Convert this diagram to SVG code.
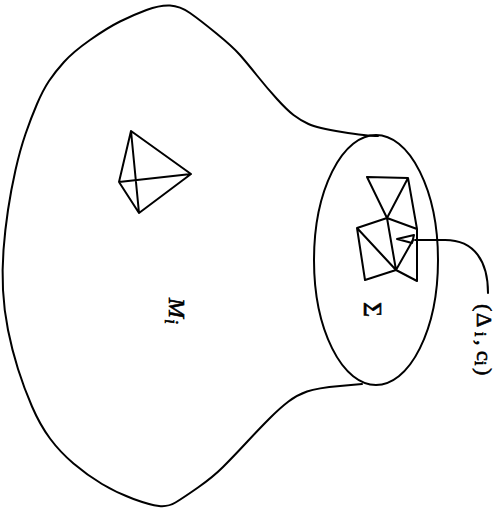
<svg xmlns="http://www.w3.org/2000/svg" width="499" height="511" viewBox="0 0 499 511">
<style>
.l{fill:none;stroke:#000;stroke-width:2;stroke-linejoin:round;stroke-linecap:round}
.t{font-family:"Liberation Serif",serif;fill:#000;stroke:#000;stroke-width:.6}
</style>
<rect width="499" height="511" fill="#fff"/>
<g id="manifold"><path class="l" d="M378 136Q367 136 342 132Q317 128 308.500 124Q300 120 293.500 115Q287 110 277 99Q267 88 257 75.500Q247 63 240 55Q233 47 216.500 33.500Q200 20 190 13Q180 6 170 5.500Q160 5 146.500 10Q133 15 120 21.500Q107 28 90 40Q73 52 64 62Q55 72 49 81Q43 90 37 104Q31 118 25.500 134Q20 150 15.500 170Q11 190 8 210Q5 230 3.500 250Q2 270 3 290Q4 310 8 330Q12 350 18 369Q24 388 32 406.500Q40 425 50 438.500Q60 452 73.500 463.500Q87 475 102 484Q117 493 133.500 499Q150 505 159 506Q168 507 175.500 502.500Q183 498 198 487.500Q213 477 223 467Q233 457 246.500 442.500Q260 428 270 418Q280 408 288.500 401.500Q297 395 307 391.500Q317 388 340 386L362 384"/></g>
<g id="sigma-region"><ellipse class="l" cx="376" cy="260" rx="62" ry="125"/></g>
<g id="tetrahedron"><path class="l" d="M131 131L191 174L139 213L119 182ZM119 182L191 174M131 131L139 213"/></g>
<g id="triangulation"><path class="l" d="M387 218L367 177L408 178ZM408 178L417 229L387 218L357 228L365 280L396 270L417 281L417 229M387 218L396 270L357 228M396 270L413 240"/></g>
<g id="connectors"><path class="l" d="M488 293C488 262 475 240 445 240L415 240"/><path class="l" d="M397 239L414 235L412 243Z"/></g>
<g id="label-mi"><text class="t" transform="translate(169,298) rotate(90)" font-size="24" font-style="italic">M<tspan font-size="18" x="21" y="4">i</tspan></text></g>
<g id="label-sigma"><text class="t" transform="translate(364,302) rotate(90)" font-size="26">Σ</text></g>
<g id="label-delta"><text class="t" transform="translate(477,305) rotate(90)" font-size="22"><tspan x="-1" y="0">(</tspan><tspan x="8" y="0">Δ</tspan><tspan x="27" y="2" font-size="16">i</tspan><tspan x="35" y="0">,</tspan><tspan x="46" y="0">c</tspan><tspan x="56" y="2" font-size="16">i</tspan><tspan x="63" y="0">)</tspan></text></g>
</svg>
